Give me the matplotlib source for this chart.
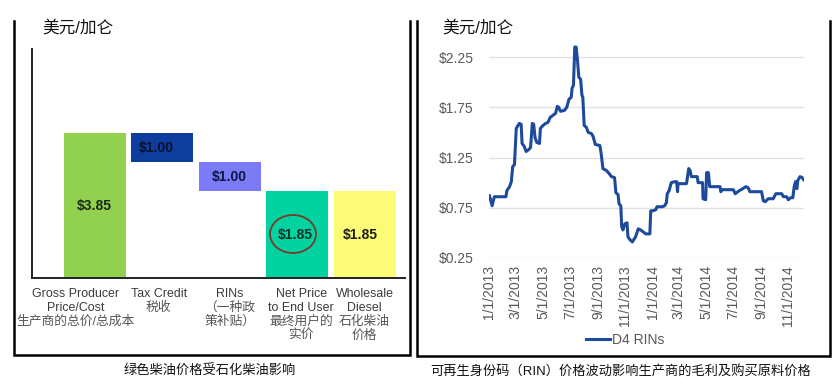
import matplotlib.pyplot as plt
import matplotlib.dates as mdates
from matplotlib.lines import Line2D
from matplotlib.patches import Ellipse
import pandas as pd

plt.rcParams['font.family'] = ['Liberation Sans', 'Noto Sans CJK SC', 'DejaVu Sans']

# ---- left chart: waterfall of green diesel price ----
steps = ['Gross', 'Tax', 'RINs', 'Net', 'Wholesale']
step_values = [3.85, 1.00, 1.00, 1.85, 1.85]
step_kind = ['total', 'minus', 'minus', 'total', 'total']
step_labels = ['$3.85', '$1.00', '$1.00', '$1.85', '$1.85']
step_names = [
    ['Gross Producer', 'Price/Cost', '生产商的总价/总成本'],
    ['Tax Credit', '税收'],
    ['RINs', '（一种政', '策补贴）'],
    ['Net Price', 'to End User', '最终用户的', '实价'],
    ['Wholesale', 'Diesel', '石化柴油', '价格'],
]

# ---- right chart: D4 RIN price ----
rin_dates = [
    '2013-01-01', '2013-01-07', '2013-01-12', '2013-02-07', '2013-02-09', '2013-02-15',
    '2013-02-19', '2013-02-22', '2013-02-26', '2013-03-02', '2013-03-06', '2013-03-09',
    '2013-03-13', '2013-03-15', '2013-03-20', '2013-03-24', '2013-03-30', '2013-04-03',
    '2013-04-07', '2013-04-10', '2013-04-13', '2013-04-17', '2013-04-23', '2013-04-25',
    '2013-05-01', '2013-05-07', '2013-05-12', '2013-05-17', '2013-05-23', '2013-05-29',
    '2013-06-02', '2013-06-05', '2013-06-09', '2013-06-18', '2013-06-23', '2013-06-28',
    '2013-07-03', '2013-07-05', '2013-07-08', '2013-07-11', '2013-07-14', '2013-07-17',
    '2013-07-20', '2013-07-24', '2013-07-27', '2013-07-29', '2013-08-01', '2013-08-06',
    '2013-08-10', '2013-08-17', '2013-08-21', '2013-08-26', '2013-09-05', '2013-09-08',
    '2013-09-12', '2013-09-20', '2013-09-26', '2013-10-01', '2013-10-08', '2013-10-11',
    '2013-10-16', '2013-10-18', '2013-10-22', '2013-10-24', '2013-10-27', '2013-10-31',
    '2013-11-05', '2013-11-07', '2013-11-12', '2013-11-17', '2013-11-21', '2013-11-24',
    '2013-11-30', '2013-12-05', '2013-12-11', '2013-12-17', '2013-12-26', '2013-12-28',
    '2014-01-02', '2014-01-08', '2014-01-11', '2014-01-23', '2014-01-28', '2014-02-01',
    '2014-02-03', '2014-02-07', '2014-02-12', '2014-02-20', '2014-02-24', '2014-02-26',
    '2014-02-27', '2014-03-18', '2014-03-23', '2014-03-26', '2014-03-29', '2014-04-11',
    '2014-04-13', '2014-04-23', '2014-04-24', '2014-04-30', '2014-05-02', '2014-05-06',
    '2014-05-09', '2014-06-01', '2014-06-03', '2014-06-05', '2014-07-01', '2014-07-05',
    '2014-07-08', '2014-07-14', '2014-07-22', '2014-07-29', '2014-08-03', '2014-08-07',
    '2014-09-02', '2014-09-06', '2014-09-10', '2014-09-17', '2014-09-28', '2014-10-04',
    '2014-10-17', '2014-10-21', '2014-10-28', '2014-11-01', '2014-11-06', '2014-11-11',
    '2014-11-14', '2014-11-17', '2014-11-20', '2014-11-22', '2014-11-27', '2014-12-02',
    '2014-12-05',
]
rin_prices = [
    0.87, 0.77, 0.86, 0.86, 0.92, 0.96,
    1.01, 1.16, 1.18, 1.54, 1.57, 1.59,
    1.58, 1.39, 1.36, 1.31, 1.33, 1.35,
    1.59, 1.58, 1.45, 1.40, 1.39, 1.54,
    1.57, 1.59, 1.60, 1.65, 1.67, 1.69,
    1.76, 1.75, 1.71, 1.72, 1.75, 1.83,
    1.85, 1.94, 1.97, 2.35, 2.35, 2.22,
    2.05, 2.03, 1.87, 1.85, 1.57, 1.55,
    1.50, 1.49, 1.46, 1.38, 1.37, 1.29,
    1.14, 1.12, 1.09, 1.06, 1.05, 0.90,
    0.88, 0.79, 0.77, 0.56, 0.53, 0.59,
    0.60, 0.46, 0.43, 0.41, 0.44, 0.46,
    0.54, 0.53, 0.51, 0.49, 0.49, 0.72,
    0.72, 0.73, 0.76, 0.76, 0.77, 0.80,
    0.89, 0.92, 1.00, 1.01, 1.01, 0.91,
    0.99, 0.99, 1.14, 1.12, 1.06, 1.06,
    1.00, 1.00, 0.84, 0.83, 1.10, 1.10,
    0.96, 0.96, 0.91, 0.93, 0.93, 0.89,
    0.90, 0.92, 0.94, 0.96, 0.95, 0.91,
    0.91, 0.82, 0.81, 0.84, 0.84, 0.89,
    0.89, 0.86, 0.86, 0.83, 0.85, 0.85,
    0.96, 1.01, 0.94, 1.02, 1.06, 1.05,
    1.03,
]
y_ticks = [0.25, 0.75, 1.25, 1.75, 2.25]

W, H = 840, 382
fig = plt.figure(figsize=(W / 100, H / 100), dpi=100)


def box(x0, y0, x1, y1):
    # pixel box (top-left origin) -> figure fraction rect
    return [x0 / W, 1 - y1 / H, (x1 - x0) / W, (y1 - y0) / H]


# ---------------- left panel ----------------
floor = -1.15
ax1 = fig.add_axes(box(32, 49, 405, 278))
bar_colors = ['#92D050', '#0E3D9E', '#7B7BF7', '#00D3A0', '#FBFB78']
text_colors = ['#1B2A12', '#08102E', '#0E1545', '#0E3326', '#1E1E10']
label_shift = [0.0, -0.09, 0.0, -0.03, -0.07]

level = 0
for i, (v, kind) in enumerate(zip(step_values, step_kind)):
    if kind == 'total':
        bottom, height = floor, v - floor
        level = v
    else:
        bottom, height = level - v, v
        level = level - v
    ax1.bar(i, height, bottom=bottom, width=0.92, color=bar_colors[i], zorder=2)
    ax1.text(i + label_shift[i], bottom + height / 2, step_labels[i], ha='center',
             va='center', fontsize=10, fontweight='bold', color=text_colors[i], zorder=3)

ax1.set_xlim(-0.93, 4.6)
ax1.set_ylim(floor, 6.75)
ax1.set_xticks([])
ax1.set_yticks([])
for s in ['top', 'right']:
    ax1.spines[s].set_visible(False)
for s in ['left', 'bottom']:
    ax1.spines[s].set_color('#222222')
    ax1.spines[s].set_linewidth(1.4)

name_shift = [-0.28, -0.05, 0.0, 0.06, 0.0]
for i, lines in enumerate(step_names):
    for j, line in enumerate(lines):
        cjk = any(ord(ch) > 0x2E80 for ch in line)
        ax1.annotate(line, xy=(i + name_shift[i], 0), xycoords=('data', 'axes fraction'),
                     xytext=(0, -16 - 14 * j), textcoords='offset pixels',
                     ha='center', va='center', fontsize=9.2 if cjk else 8.9,
                     color='#555555' if cjk else '#3a3a3a', annotation_clip=False)

# hand-drawn circle around net price
fig.patches.append(Ellipse((293 / W, 1 - 234 / H), 46 / W, 38 / H,
                           transform=fig.transFigure, fill=False,
                           edgecolor='#7A3A2C', linewidth=1.3, angle=0))

fig.text(42 / W, 1 - 28 / H, '美元/加仑', fontsize=12, va='center', ha='left',
         color='#111111')
fig.text(210 / W, 1 - 371 / H, '绿色柴油价格受石化柴油影响', fontsize=9.5,
         ha='center', va='center', color='#111111')

# ---------------- right panel ----------------
ax2 = fig.add_axes(box(489, 40, 804, 258))
dates = pd.to_datetime(rin_dates)
ax2.plot(dates, rin_prices, color='#1D4A9A', linewidth=2.2, label='D4 RINs', zorder=3)
ax2.set_ylim(0.25, 2.42)
ax2.set_xlim(pd.Timestamp('2012-12-31'), pd.Timestamp('2014-12-06'))
ax2.set_yticks(y_ticks)
ax2.set_yticklabels([f'${v:.2f}' for v in y_ticks])
ax2.yaxis.grid(True, color='#E2E2E2', linewidth=1)
ax2.set_axisbelow(True)
ax2.xaxis.set_major_locator(mdates.MonthLocator(bymonth=[1, 3, 5, 7, 9, 11]))
ax2.xaxis.set_major_formatter(
    plt.FuncFormatter(lambda x, pos: f'{mdates.num2date(x).month}/1/{mdates.num2date(x).year}'))
for s in ax2.spines.values():
    s.set_visible(False)
ax2.tick_params(axis='y', length=0, pad=11, labelsize=10, labelcolor='#595959')
ax2.tick_params(axis='x', length=0, pad=5, labelsize=10, labelcolor='#595959',
                labelrotation=90)

ax2.legend(loc='center', bbox_to_anchor=(625 / W, 1 - 340 / H),
           bbox_transform=fig.transFigure, frameon=False, fontsize=10,
           handlelength=1.75, handletextpad=0.15, labelcolor='#595959')

fig.text(442 / W, 1 - 28 / H, '美元/加仑', fontsize=12, va='center', ha='left',
         color='#111111')
fig.text(621 / W, 1 - 372 / H, '可再生身份码（RIN）价格波动影响生产商的毛利及购买原料价格',
         fontsize=9.5, ha='center', va='center', color='#111111')

# ---------------- panel frames ----------------
frames = [(14, 21, 410, 355), (417, 21, 830, 356)]
for x0, y0, x1, y1 in frames:
    xs = [x0 / W, x0 / W, x1 / W, x1 / W]
    ys = [1 - y0 / H, 1 - y1 / H, 1 - y1 / H, 1 - y0 / H]
    fig.add_artist(Line2D(xs, ys, transform=fig.transFigure, color='black',
                          linewidth=1.8, solid_joinstyle='miter'))

fig.savefig('out.png', dpi=100)
